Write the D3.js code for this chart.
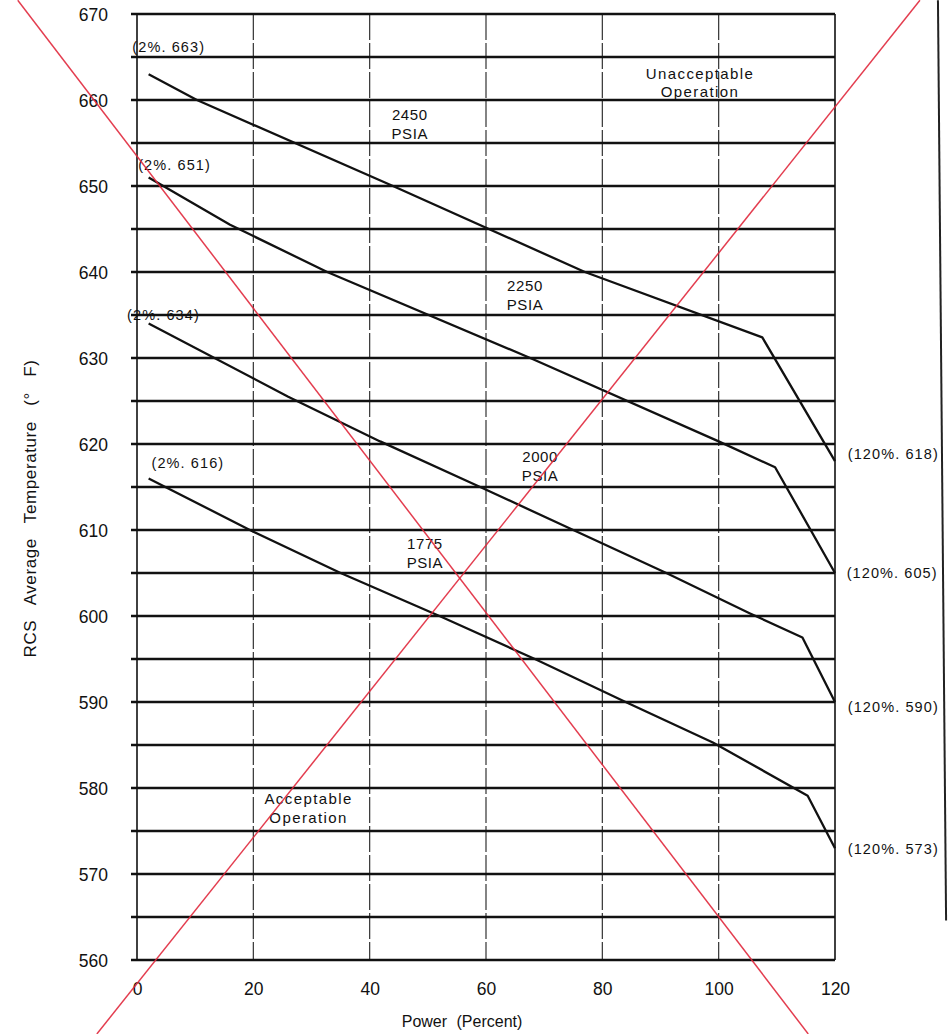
<!DOCTYPE html>
<html><head><meta charset="utf-8">
<script src="https://cdn.jsdelivr.net/npm/d3@7"></script>
<style>
body{margin:0;background:#fff;}
svg{display:block;font-family:"Liberation Sans",Arial,sans-serif;}
</style></head>
<body><svg id="c" width="948" height="1034"></svg>
<script>
// ---- data ----
const xTicks = [0,20,40,60,80,100,120];
const yTicks = [560,570,580,590,600,610,620,630,640,650,660,670];
const hGrid = [560,565,570,575,580,585,590,595,600,605,610,615,620,625,630,635,640,645,650,655,660,665,670];
const vGrid = [20,40,60,80,100];

const curve2450 = [[2,663],[10.3,660],[44,650],[77,640],[107.5,632.4],[120,618]];
const curve2250 = [[2,651],[16,645.5],[32.7,640],[67.6,630],[100,620.3],[109.7,617.3],[120,605]];
const curve2000 = [[2,634],[26,625.5],[41.8,620.3],[59,615],[75,610],[91,605],[105.4,600.3],[114.4,597.5],[120,590]];
const curve1775 = [[2,616],[19.4,610],[35,605],[52,600],[68.4,595],[84,590],[99,585.3],[115.3,579.1],[120,573]];
const curves = [curve2450, curve2250, curve2000, curve1775];

const endLabels = [
  {t:"(2%. 663)", p:-0.8, v:665.6},
  {t:"(2%. 651)", p:0.2, v:651.9},
  {t:"(2%. 634)", p:-1.7, v:634.4},
  {t:"(2%. 616)", p:2.5, v:617.2},
  {t:"(120%. 618)", p:122.2, v:618.3},
  {t:"(120%. 605)", p:122.0, v:604.4},
  {t:"(120%. 590)", p:122.2, v:588.8},
  {t:"(120%. 573)", p:122.2, v:572.3}
];
const pressureLabels = [
  {l1:"2450", l2:"PSIA", p:46.9, v:657.7},
  {l1:"2250", l2:"PSIA", p:66.7, v:637.8},
  {l1:"2000", l2:"PSIA", p:69.3, v:617.9},
  {l1:"1775", l2:"PSIA", p:49.5, v:607.8}
];
const regionLabels = [
  {l1:"Unacceptable", l2:"Operation", p:96.8, v:662.5},
  {l1:"Acceptable", l2:"Operation", p:29.5, v:578.1}
];
const crossOut = [[[-20.5,671.6],[115.4,551.4]], [[134.6,671.6],[-6.9,551.4]]];
const pageEdge = [[137.7,671.6],[139.1,564.6]];

// ---- drawing ----
const svg = d3.select("#c");
const x = d3.scaleLinear().domain([0,120]).range([137,835]);
const y = d3.scaleLinear().domain([560,670]).range([960,14]);
const line = d3.line().x(d=>x(d[0])).y(d=>y(d[1]));

// vertical grid
svg.append("g").selectAll("line").data(vGrid).join("line")
  .attr("x1",d=>x(d)).attr("x2",d=>x(d)).attr("y1",y(670)).attr("y2",y(560))
  .attr("stroke","#333").attr("stroke-width",1.2).attr("stroke-dasharray","26,3");

// horizontal grid
svg.append("g").selectAll("line").data(hGrid).join("line")
  .attr("x1",x(0)-6).attr("x2",x(120)).attr("y1",d=>y(d)).attr("y2",d=>y(d))
  .attr("stroke","#111").attr("stroke-width",2.4);

// frame sides
svg.append("line").attr("x1",x(0)).attr("x2",x(0)).attr("y1",y(670)).attr("y2",y(560))
  .attr("stroke","#111").attr("stroke-width",1.6);
svg.append("line").attr("x1",x(120)).attr("x2",x(120)).attr("y1",y(670)).attr("y2",y(560))
  .attr("stroke","#111").attr("stroke-width",1.6);

// axes labels via d3 axes
const yAxis = svg.append("g").attr("transform",`translate(${x(0)-26},0)`)
  .call(d3.axisLeft(y).tickValues(yTicks).tickSize(0).tickFormat(d3.format("d")));
yAxis.select(".domain").remove();
yAxis.selectAll("text").attr("font-size",17.5).attr("fill","#111").attr("dy","0.38em")
  .attr("font-family","'Liberation Sans',Arial,sans-serif");

const xAxis = svg.append("g").attr("transform",`translate(0,${y(560)+20})`)
  .call(d3.axisBottom(x).tickValues(xTicks).tickSize(0).tickFormat(d3.format("d")));
xAxis.select(".domain").remove();
xAxis.selectAll("text").attr("font-size",17.5).attr("fill","#111").attr("dy","0.71em")
  .attr("font-family","'Liberation Sans',Arial,sans-serif");

// curves
svg.append("g").selectAll("path").data(curves).join("path")
  .attr("d",line).attr("fill","none").attr("stroke","#111").attr("stroke-width",2.3)
  .attr("stroke-linejoin","round");

// end labels
svg.append("g").selectAll("text").data(endLabels).join("text")
  .attr("x",d=>x(d.p)).attr("y",d=>y(d.v))
  .attr("font-size",14.5).attr("letter-spacing","1.1px").attr("fill","#111").text(d=>d.t);

// pressure & region labels (two lines)
function twoLine(data, fs, ls){
  const g = svg.append("g").selectAll("text").data(data).join("text")
    .attr("x",d=>x(d.p)).attr("y",d=>y(d.v)).attr("text-anchor","middle")
    .attr("font-size",fs).attr("letter-spacing",ls).attr("fill","#111");
  g.append("tspan").attr("x",d=>x(d.p)).text(d=>d.l1);
  g.append("tspan").attr("x",d=>x(d.p)).attr("dy","1.25em").text(d=>d.l2);
}
twoLine(pressureLabels, 15, "0.6px");
twoLine(regionLabels, 15, "1.4px");

// axis titles
svg.append("text").attr("x",462).attr("y",1027).attr("text-anchor","middle")
  .attr("font-size",16).attr("fill","#111").attr("word-spacing","5px").text("Power (Percent)");
svg.append("text").attr("transform",`translate(36,${y(612.5)}) rotate(-90)`).attr("text-anchor","middle")
  .attr("font-size",17).attr("letter-spacing","0.6px").attr("fill","#111").attr("word-spacing","10px").text("RCS Average Temperature (° F)");

// page edge
svg.append("path").attr("d",line(pageEdge)).attr("stroke","#222").attr("stroke-width",2).attr("fill","none");

// red cross-out
svg.append("g").selectAll("path").data(crossOut).join("path")
  .attr("d",line).attr("stroke","#e0283c").attr("stroke-width",1.5).attr("fill","none").attr("opacity",0.9);
</script></body></html>
